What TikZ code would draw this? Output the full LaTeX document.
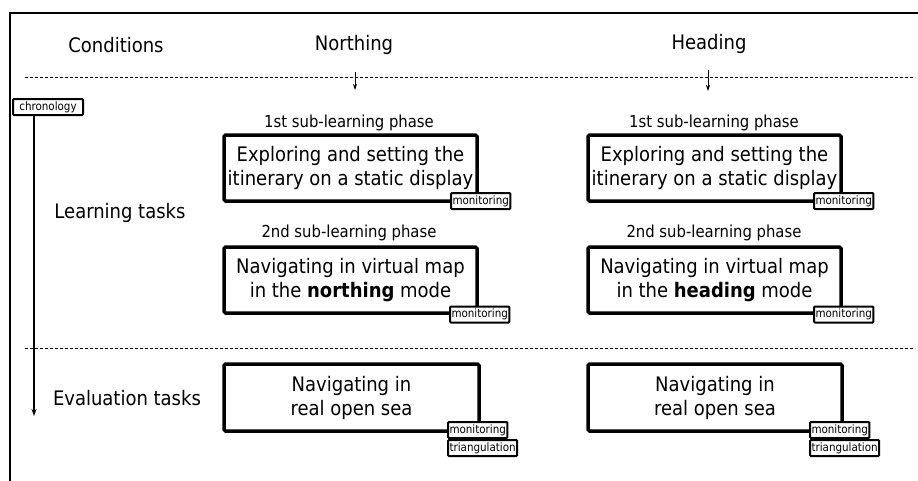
\documentclass[tikz,border=0pt]{standalone}
\usepackage{fontspec}
\setmainfont{DejaVu Sans Condensed}
\usetikzlibrary{arrows.meta}
\begin{document}
\begin{tikzpicture}[x=1pt,y=-1pt,
  hdr/.style={font=\fontsize{20}{24}\selectfont},
  phase/.style={font=\fontsize{16.5}{20}\selectfont},
  taskbox/.style={draw,line width=3.5pt,rounded corners=1.5pt,fill=white,minimum width=253pt,minimum height=66pt,align=center,inner sep=0pt,font=\fontsize{20}{24}\selectfont},
  tag/.style={draw,line width=2pt,rounded corners=1pt,fill=white,inner sep=1.5pt,minimum height=16pt,font=\fontsize{11.5}{13}\selectfont},
  sep/.style={line width=0.6pt,dash pattern=on 3pt off 2pt},
  arr/.style={-{Stealth[length=7pt,width=5pt]},line width=1.2pt}]
\useasboundingbox (0,0) rectangle (918,480);
% frame
\draw[line width=2.6pt] (10,482) -- (10,13) -- (920,13);
% headers
\node[hdr] (cond) at (116,45) {Conditions};
\node[hdr] (north) at (354,45) {Northing};
\node[hdr] (head) at (709,44) {Heading};
\draw[sep] (25,77) -- (915,77);
\draw[sep] (25,348) -- (915,348);
\coordinate (na1) at (355,72); \coordinate (na2) at (355,90);
\coordinate (ha1) at (708,70); \coordinate (ha2) at (708,91);
\draw[arr,line width=0.7pt,-{Stealth[length=6pt,width=4pt]}] (na1) -- (na2);
\draw[arr,line width=0.7pt,-{Stealth[length=6pt,width=4pt]}] (ha1) -- (ha2);
% chronology
\node[tag,anchor=north west,minimum width=70pt,minimum height=16pt,inner sep=1pt] (chron) at (12,98) {chronology};
\coordinate (chend) at (34,416);
\draw[arr] (chron.south -| chend) -- (chend);
% row labels
\node[hdr] (learn) at (120,213) {Learning tasks};
\node[hdr] (eval) at (127,398) {Evaluation tasks};
% phase labels
\node[phase] (p1n) at (349,123) {1st sub-learning phase};
\node[phase] (p1h) at (714,123) {1st sub-learning phase};
\node[phase] (p2n) at (349,233) {2nd sub-learning phase};
\node[phase] (p2h) at (714,233) {2nd sub-learning phase};
% boxes
\node[taskbox] (b1n) at (350.5,168) {Exploring and setting the\\itinerary on a static display};
\node[taskbox] (b1h) at (714.5,168) {Exploring and setting the\\itinerary on a static display};
\node[taskbox] (b2n) at (350.5,280) {Navigating in virtual map\\in the \textbf{northing} mode};
\node[taskbox] (b2h) at (714.5,280) {Navigating in virtual map\\in the \textbf{heading} mode};
\node[taskbox,minimum width=255pt,minimum height=67pt] (b3n) at (351.5,397.5) {Navigating in\\real open sea};
\node[taskbox,minimum width=254pt,minimum height=67pt] (b3h) at (715,397.5) {Navigating in\\real open sea};
% tags
\node[tag,anchor=west] (m1n) at (450,201) {monitoring};
\node[tag,anchor=west] (m1h) at (813,201) {monitoring};
\node[tag,anchor=west] (m2n) at (449,314.5) {monitoring};
\node[tag,anchor=west] (m2h) at (813,314.5) {monitoring};
\node[tag,anchor=west] (m3n) at (447,430) {monitoring};
\node[tag,anchor=west] (t3n) at (447,448) {triangulation};
\node[tag,anchor=west] (m3h) at (809,430) {monitoring};
\node[tag,anchor=west] (t3h) at (809,448) {triangulation};
\end{tikzpicture}
\end{document}
